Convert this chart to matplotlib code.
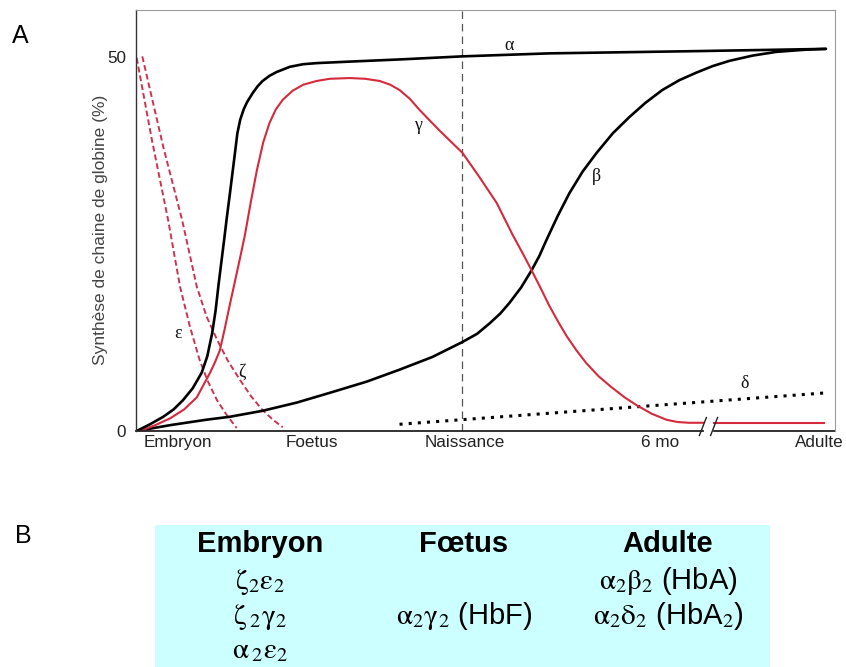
#!/usr/bin/env python3
"""Globin chain synthesis during development (panel A) and haemoglobins (panel B)."""

import matplotlib

matplotlib.use("Agg")
import matplotlib.pyplot as plt
from matplotlib.patches import Rectangle

plt.rcParams["font.family"] = ["Liberation Sans", "DejaVu Sans"]
plt.rcParams["mathtext.fontset"] = "stix"
plt.rcParams["mathtext.default"] = "rm"

# time axis is arbitrary (0 = conception, 100 = adult), values in % of globin synthesis
ALPHA_X = [0.1, 2.0, 3.9, 5.4, 6.7, 8.1, 9.4, 10.2, 10.9, 11.4, 11.8, 12.2, 12.6, 13.0,
           13.4, 13.8, 14.2, 14.5, 14.9, 15.4, 15.9, 16.7, 17.4, 18.1, 19.1, 20.1,
           22.0, 23.9, 25.9, 30.6, 38.0, 46.7, 59.1, 80.1, 98.7]
ALPHA_Y = [0.0, 0.9, 1.9, 2.9, 4.1, 5.7, 7.8, 10.0, 13.1, 16.2, 19.5, 22.5, 25.5, 28.6,
           31.5, 34.5, 37.5, 39.8, 41.6, 43.0, 44.0, 45.2, 46.1, 46.8, 47.5, 48.0,
           48.7, 49.05, 49.2, 49.4, 49.7, 50.1, 50.5, 50.8, 51.1]

GAMMA_X = [0.6, 2.8, 4.9, 6.9, 8.7, 10.6, 11.3, 12.0, 12.7, 13.4, 14.2, 14.9, 15.6,
           16.4, 17.3, 18.2, 19.1, 20.0, 21.0, 22.4, 23.9, 25.8, 27.7, 30.6, 32.8,
           34.9, 36.4, 37.7, 39.2, 40.6, 43.4, 46.7, 49.1, 51.6, 53.9, 55.3, 56.7,
           58.0, 59.1, 60.4, 61.6, 63.0, 64.4, 66.2, 68.1, 69.9, 71.7, 73.8, 75.9,
           77.5, 79.1, 81.1]
GAMMA_Y = [0.0, 0.8, 1.7, 2.9, 4.5, 7.8, 9.2, 10.8, 13.7, 16.8, 20.2, 23.2, 26.3,
           30.5, 34.9, 38.6, 41.2, 43.0, 44.3, 45.5, 46.3, 46.8, 47.1, 47.2, 47.1,
           46.8, 46.3, 45.6, 44.4, 42.9, 40.2, 37.2, 34.0, 30.5, 26.2, 23.8, 21.3,
           18.9, 16.8, 14.6, 12.7, 10.8, 9.1, 7.3, 5.8, 4.5, 3.4, 2.3, 1.5,
           1.2, 1.1, 1.1]
GAMMA_ADULT_X = [82.7, 98.4]
GAMMA_ADULT_Y = [1.1, 1.1]

BETA_X = [0.1, 5.0, 10.0, 13.4, 18.1, 23.0, 27.7, 33.0, 37.7, 42.4, 46.7, 48.8, 50.6,
          52.1, 53.4, 55.1, 56.6, 57.7, 58.7, 60.3, 62.0, 63.9, 65.9, 68.2, 70.6,
          72.9, 75.3, 77.7, 80.1, 82.5, 84.9, 88.2, 91.6, 95.9, 98.7]
BETA_Y = [0.0, 0.8, 1.5, 1.9, 2.7, 3.8, 5.1, 6.6, 8.2, 9.9, 11.9, 13.0, 14.4,
          15.7, 17.1, 19.2, 21.5, 23.4, 25.5, 28.7, 31.8, 34.7, 37.2, 39.8, 42.0,
          43.9, 45.6, 46.9, 47.9, 48.8, 49.5, 50.2, 50.7, 51.0, 51.1]

EPSILON_X = [0.1, 2.3, 4.6, 6.3, 7.7, 9.1, 10.3, 11.6, 13.0, 14.4]
EPSILON_Y = [49.9, 38.8, 28.2, 19.3, 14.0, 9.5, 6.6, 4.1, 2.1, 0.4]

ZETA_X = [0.9, 3.9, 6.6, 8.7, 10.1, 11.6, 13.2, 14.9, 16.5, 18.1, 19.6, 21.0]
ZETA_Y = [50.1, 38.0, 28.2, 19.3, 15.3, 12.2, 9.3, 6.8, 4.6, 2.8, 1.5, 0.5]

DELTA_X = [37.7, 98.7]
DELTA_Y = [0.9, 5.1]

BIRTH_X = 46.7
AXIS_BREAK = (81.1, 82.7)

STAGE_POS = [6.0, 25.1, 47.1, 75.0, 97.7]
STAGE_LABELS = ["Embryon", "Foetus", "Naissance", "6 mo", "Adulte"]
Y_TICKS = [0, 50]

TABLE_HEADERS = ["Embryon", "Fœtus", "Adulte"]
TABLE_ROWS = [
    [r"$\zeta_2\varepsilon_2$", "", r"$\alpha_2\beta_2$ (HbA)"],
    [r"$\zeta\,{}_2\gamma_2$", r"$\alpha_2\gamma_2$ (HbF)", r"$\alpha_2\delta_2$ (HbA$_2$)"],
    [r"$\alpha\,{}_2\varepsilon_2$", "", ""],
]

RED = "#d42a3c"
PINK = "#cc3350"
W, H = 846, 667


def fx(px):
    return px / W


def fy(py):
    return 1 - py / H


fig = plt.figure(figsize=(W / 100, H / 100), dpi=100)
ax = fig.add_axes([fx(136), fy(431), fx(699), 421 / H])

ax.plot(EPSILON_X, EPSILON_Y, color=PINK, lw=1.4, dashes=(3, 1.6))
ax.plot(ZETA_X, ZETA_Y, color=PINK, lw=1.4, dashes=(3, 1.6))
ax.plot(DELTA_X, DELTA_Y, color="black", lw=2.2, dashes=(1, 2), dash_capstyle="butt")
ax.axvline(BIRTH_X, color="#555555", lw=0.9, dashes=(6, 4))
ax.plot(BETA_X, BETA_Y, color="black", lw=1.9, solid_capstyle="round")
ax.plot(GAMMA_X, GAMMA_Y, color=RED, lw=1.5)
ax.plot(GAMMA_ADULT_X, GAMMA_ADULT_Y, color=RED, lw=1.5)
ax.plot(ALPHA_X, ALPHA_Y, color="black", lw=1.9, solid_capstyle="round")

label_pos = {
    "α": (53.4, 51.6),
    "γ": (40.3, 40.9),
    "β": (65.9, 34.0),
    "δ": (87.0, 6.4),
    "ε": (6.0, 13.1),
    "ζ": (15.1, 7.9),
}
for name, (x, y) in label_pos.items():
    ax.text(x, y, name, fontsize=13, family=["Liberation Serif", "DejaVu Serif"],
            ha="center", va="center", color="#111111")

ax.set_xlim(0, 100)
ax.set_ylim(0, 56.3)

# bottom axis with a break between 6 months and adulthood
ax.spines["bottom"].set_visible(False)
lo, hi = AXIS_BREAK
ax.axhline(0, xmin=0, xmax=lo / 100, color="#222222", lw=1.3, clip_on=False)
ax.axhline(0, xmin=hi / 100, xmax=1, color="#222222", lw=1.3, clip_on=False)
for bx in AXIS_BREAK:
    ax.plot([bx - 0.5, bx + 0.5], [-0.6, 1.8], color="#222222", lw=1.0, clip_on=False)
ax.spines["left"].set_color("#333333")
ax.spines["left"].set_linewidth(1.0)
for side in ("top", "right"):
    ax.spines[side].set_color("#9a9a9a")
    ax.spines[side].set_linewidth(0.8)

ax.set_xticks(STAGE_POS)
ax.set_xticklabels(STAGE_LABELS)
ax.set_yticks(Y_TICKS)
ax.tick_params(axis="both", length=0, labelsize=12.3, colors="#222222")
ax.tick_params(axis="x", pad=3)
ax.tick_params(axis="y", pad=7)
ax.set_ylabel("Synthèse de chaine de globine (%)", fontsize=12.5, color="#444444", va="center")
ax.yaxis.set_label_coords(-0.0515, 0.477)

fig.text(fx(12), fy(43), "A", fontsize=18, ha="left", va="baseline")
fig.text(fx(15), fy(543), "B", fontsize=18, ha="left", va="baseline")

# panel B: haemoglobins by stage
fig.patches.append(Rectangle((fx(155), 0), fx(770 - 155), fy(525), transform=fig.transFigure,
                             facecolor="#ccffff", edgecolor="none", zorder=0))
col_x = [fx(260), fx(464), fx(668)]
for cx, head in zip(col_x, TABLE_HEADERS):
    fig.text(cx, fy(552), head, fontsize=21, fontweight="bold", ha="center", va="baseline")
row_y = [fy(589), fy(624), fy(658)]
for ry, row in zip(row_y, TABLE_ROWS):
    for cx, cell in zip(col_x, row):
        if cell:
            fig.text(cx, ry, cell, fontsize=21, ha="center", va="baseline")

fig.savefig("out.png", dpi=100)
